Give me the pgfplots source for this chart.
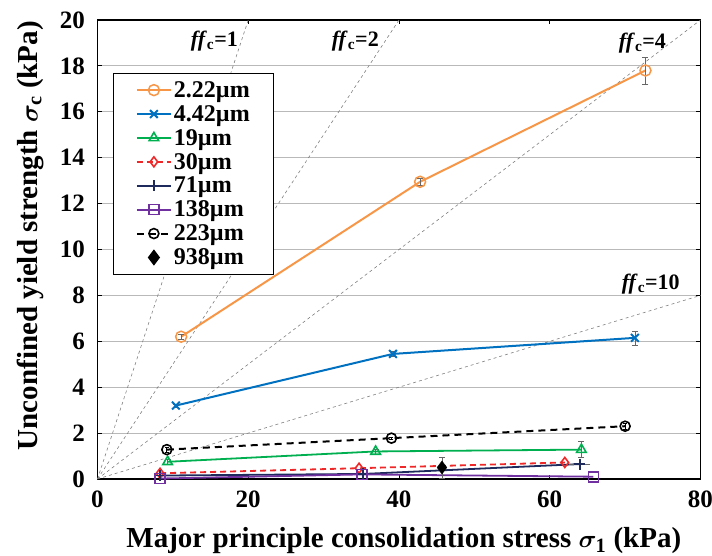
\documentclass[border=0pt]{standalone}
\usepackage{pgfplots}
\pgfplotsset{compat=1.18}
\usepackage{bm}
\usepackage{fontspec}
\setmainfont{Liberation Serif}
\definecolor{corange}{RGB}{247,150,70}
\definecolor{cblue}{RGB}{0,112,192}
\definecolor{cgreen}{RGB}{0,176,80}
\definecolor{cred}{RGB}{238,40,40}
\definecolor{cnavy}{RGB}{31,42,92}
\definecolor{cpurple}{RGB}{112,48,160}
\begin{document}
\begin{tikzpicture}
\useasboundingbox (-97.5pt,-77pt) rectangle (614.5pt,479pt);
\begin{axis}[
  at={(0,0)}, anchor=south west,
  scale only axis, width=603pt, height=459pt,
  xmin=0, xmax=80, ymin=0, ymax=20,
  xtick={0,20,40,60,80}, ytick={0,2,...,20},
  ymajorgrids, grid style={gray!55, line width=0.8pt},
  axis line style={line width=1.6pt},
  tick style={black, line width=0.8pt},
  /pgf/number format/assume math mode=true,
  tick label style={font=\bfseries\fontsize{25}{25}\selectfont},
  xticklabel style={yshift=-8pt},
  yticklabel style={xshift=-9pt},
  xlabel={Major principle consolidation stress $\bm{\sigma}_{\mathbf{1}}$ (kPa)},
  ylabel={Unconfined yield strength $\bm{\sigma}_{\mathbf{c}}$ (kPa)},
  every axis x label/.style={at={(axis description cs:0.508,-0.135)}, anchor=center, font=\bfseries\fontsize{29}{30}\selectfont},
  every axis y label/.style={at={(axis description cs:-0.111,0.53)}, rotate=90, anchor=center, font=\bfseries\fontsize{29}{30}\selectfont},
  legend style={at={(0.026,0.885)}, anchor=north west, draw=black, line width=1.3pt,
    font=\bfseries\fontsize{24}{24}\selectfont, row sep=2.5pt, inner xsep=22pt, inner ysep=6pt,
    cells={anchor=west}},
  legend image code/.code={\draw[line width=2pt, mark repeat=2,mark phase=2] plot coordinates {(0cm,0cm)(0.6cm,0cm)(1.2cm,0cm)};},
  clip=false,
]
% ff_c reference lines
\addplot[gray, dashed, line width=0.6pt, forget plot] coordinates {(0,0)(20,20)};
\addplot[gray, dashed, line width=0.6pt, forget plot] coordinates {(0,0)(40,20)};
\addplot[gray, dashed, line width=0.6pt, forget plot] coordinates {(0,0)(80,20)};
\addplot[gray, dashed, line width=0.6pt, forget plot] coordinates {(0,0)(80,8)};
\node[font=\bfseries\fontsize{22}{22}\selectfont] at (axis cs:15.5,19.1) {\textit{ff}\textsubscript{c}=1};
\node[font=\bfseries\fontsize{22}{22}\selectfont] at (axis cs:34.2,19.1) {\textit{ff}\textsubscript{c}=2};
\node[font=\bfseries\fontsize{22}{22}\selectfont] at (axis cs:72.3,19.0) {\textit{ff}\textsubscript{c}=4};
\node[font=\bfseries\fontsize{22}{22}\selectfont] at (axis cs:73.4,8.5) {\textit{ff}\textsubscript{c}=10};
% data
\addplot[color=corange, line width=2pt, mark=o, mark size=5.5pt, mark options={solid, line width=1.5pt},
  error bars/.cd, y dir=both, y explicit, error bar style={black!60, line width=0.7pt},
  error mark options={rotate=90, mark size=3pt, black!60}]
  coordinates {(11.1,6.2) +- (0,0.1) (42.8,12.95) +- (0,0.15) (72.7,17.8) +- (0,0.6)};
\addlegendentry{2.22\textmu m}
\addplot[color=cblue, line width=2pt, mark=x, mark size=5.5pt, mark options={solid, line width=2pt},
  error bars/.cd, y dir=both, y explicit, error bar style={black!60, line width=0.7pt},
  error mark options={rotate=90, mark size=3pt, black!60}]
  coordinates {(10.4,3.2) +- (0,0.05) (39.2,5.45) +- (0,0.1) (71.3,6.15) +- (0,0.3)};
\addlegendentry{4.42\textmu m}
\addplot[color=cgreen, line width=1.8pt, mark=triangle, mark size=5.5pt, mark options={solid, line width=1.6pt},
  error bars/.cd, y dir=both, y explicit, error bar style={black!60, line width=0.7pt},
  error mark options={rotate=90, mark size=3pt, black!60}]
  coordinates {(9.3,0.75) +- (0,0.1) (36.9,1.2) +- (0,0.1) (64.2,1.28) +- (0,0.35)};
\addlegendentry{19\textmu m}
\addplot[color=cred, line width=1.8pt, dashed, dash pattern=on 6pt off 4pt, mark=diamond, mark size=5pt, mark options={solid, line width=1.6pt}]
  coordinates {(8.3,0.25) (34.7,0.47) (62.0,0.72)};
\addlegendentry{30\textmu m}
\addplot[color=cnavy, line width=1.8pt, mark=+, mark size=5.5pt, mark options={solid, line width=1.8pt},
  error bars/.cd, x dir=both, x explicit, error bar style={black!60, line width=0.7pt},
  error mark options={mark size=3pt, black!60}]
  coordinates {(8.3,0.15) +- (0.2,0) (35.2,0.22) +- (0.3,0) (64.0,0.65) +- (1.0,0)};
\addlegendentry{71\textmu m}
\addplot[color=cpurple, line width=1.8pt, mark=square, mark size=5pt, mark options={solid, line width=1.6pt}]
  coordinates {(8.3,0.02) (35.1,0.2) (65.8,0.1)};
\addlegendentry{138\textmu m}
\addplot[color=black, line width=2pt, dashed, dash pattern=on 7pt off 5pt, mark=o, mark size=5pt, mark options={solid, line width=1.6pt},
  error bars/.cd, y dir=both, y explicit, error bar style={black, line width=0.8pt},
  error mark options={rotate=90, mark size=2pt, black}]
  coordinates {(9.2,1.28) +- (0,0.1) (39.0,1.78) +- (0,0.05) (70.0,2.3) +- (0,0.15)};
\addlegendentry{223\textmu m}
\addplot[color=black, only marks, mark=diamond*, mark size=6.5pt,
  error bars/.cd, y dir=both, y explicit, error bar style={black!60, line width=0.7pt},
  error mark options={rotate=90, mark size=3pt, black!60}]
  coordinates {(45.7,0.5) +- (0,0.45)};
\addlegendentry{938\textmu m}
\end{axis}
\end{tikzpicture}
\end{document}
